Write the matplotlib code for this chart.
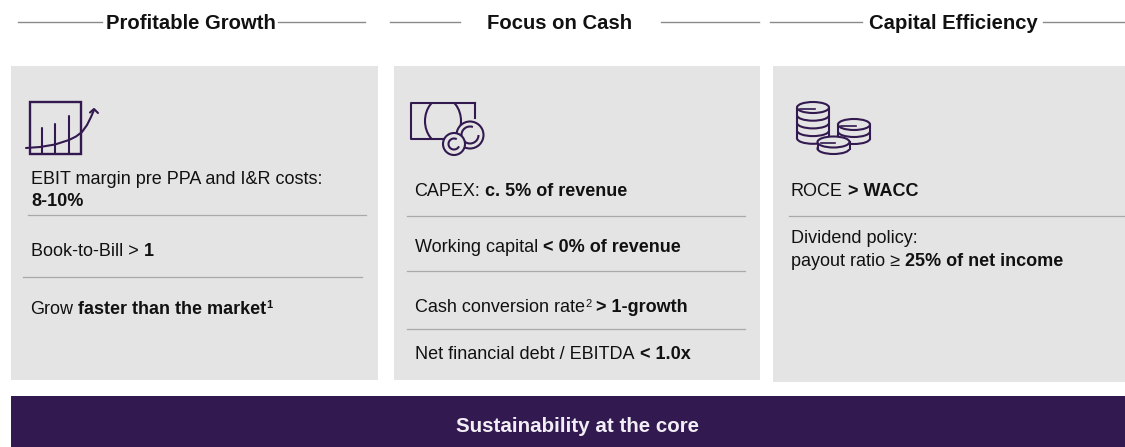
import numpy as np
import matplotlib
matplotlib.use("Agg")
import matplotlib.pyplot as plt
from matplotlib.patches import Rectangle, Ellipse, Arc

W, H = 1125, 447
GREY = "#e4e4e4"
PURPLE = "#32194f"
RULE = "#a9a9a9"
INK = "#111111"
FS = 13.0
HFS = 14.6
SPACE = 5.0

headers = ["Profitable Growth", "Focus on Cash", "Capital Efficiency"]
header_x = [191, 560, 953]
header_rules = [[(18, 102), (278, 365)], [(390, 460), (661, 759)], [(770, 862), (1043, 1125)]]
panels = [(11, 378), (394, 760), (773, 1125)]
panel_tops = [66, 66, 66]
panel_bottoms = [380, 380, 382]
rules = [(28, 366, 215), (23, 362, 277), (407, 745, 216), (407, 745, 271), (407, 745, 329), (789, 1125, 216)]
footer_text = "Sustainability at the core"

# (x, baseline y, [(text, bold, superscript)])
lines = [
    (31, 184, [("EBIT margin pre PPA and I&R costs:", False, False)]),
    (31, 206, [("8-10%", True, False)]),
    (31, 256, [("Book-to-Bill > ", False, False), ("1", True, False)]),
    (30.5, 314, [("Grow ", False, False), ("faster than the market", True, False), ("1", True, True)]),
    (414.5, 196, [("CAPEX: ", False, False), ("c. 5% of revenue", True, False)]),
    (415, 252.5, [("Working capital ", False, False), ("< 0% of revenue", True, False)]),
    (415, 312.5, [("Cash conversion rate", False, False), ("2", False, True), (" > 1-growth", True, False)]),
    (415, 359, [("Net financial debt / EBITDA ", False, False), ("< 1.0x", True, False)]),
    (791, 196, [("ROCE ", False, False), ("> WACC", True, False)]),
    (791, 243, [("Dividend policy:", False, False)]),
    (791, 266, [("payout ratio ≥ ", False, False), ("25% of net income", True, False)]),
]

plt.rcParams["font.family"] = ["Liberation Sans", "DejaVu Sans"]
fig = plt.figure(figsize=(W / 100, H / 100), dpi=100)
ax = fig.add_axes([0, 0, 1, 1])
ax.set_xlim(0, W)
ax.set_ylim(H, 0)
ax.axis("off")

for (x0, x1), top, bottom in zip(panels, panel_tops, panel_bottoms):
    ax.add_patch(Rectangle((x0, top), x1 - x0, bottom - top, fc=GREY, ec="none", zorder=1))
ax.add_patch(Rectangle((11, 396), W - 11, H - 396, fc=PURPLE, ec="none", zorder=1))

for x0, x1, y in rules:
    ax.plot([x0, x1], [y, y], color=RULE, lw=0.9, zorder=2)

for label, x, segs in zip(headers, header_x, header_rules):
    ax.text(x, 23.5, label, ha="center", va="center", fontsize=HFS, fontweight="bold", color=INK, zorder=3)
    for a, b in segs:
        ax.plot([a, b], [22, 22], color="#8a8a8a", lw=1.0, zorder=2)

ax.text(578, 426.5, footer_text, ha="center", va="center", fontsize=14.8, fontweight="bold", color="#f2eef5", zorder=3)

renderer = fig.canvas.get_renderer()
inv = ax.transData.inverted()
for x, y, segs in lines:
    cur = x
    for txt, bold, sup in segs:
        core = txt.strip(" ")
        lead = len(txt) - len(txt.lstrip(" "))
        trail = len(txt) - len(txt.rstrip(" "))
        t = ax.text(cur + lead * SPACE, y - (5.5 if sup else 0), core, ha="left", va="baseline",
                    fontsize=FS * (0.62 if sup else 1), fontweight="bold" if bold else "normal",
                    color=INK, zorder=3)
        bb = t.get_window_extent(renderer)
        cur = inv.transform((bb.x1, 0))[0] + trail * SPACE

# icons
lw = 1.5
kw = dict(color=PURPLE, lw=lw, zorder=4, solid_capstyle="round")

# growth chart icon
ax.add_patch(Rectangle((30, 102), 51, 52, fc="none", ec=PURPLE, lw=1.7, zorder=4))
for bx, by in [(42, 128), (55, 124), (69, 116)]:
    ax.plot([bx, bx], [by, 154], **kw)
cx = [26, 40, 55, 69, 76, 82, 87, 91, 94]
cy = [148, 147, 144.5, 140, 136.5, 132, 125, 117, 110]
ax.plot(cx, cy, **kw)
ax.plot([90, 94, 98], [112.5, 109, 113], **kw)

# banknote + coins icon
ax.plot([475, 411, 411, 446], [103, 103, 139, 139], color=PURPLE, lw=lw, zorder=4)
ax.plot([475, 475], [103, 118], color=PURPLE, lw=lw, zorder=4)
oval = Ellipse((443, 121), 36, 46, fc="none", ec=PURPLE, lw=lw, zorder=4)
ax.add_patch(oval)
clip = Rectangle((411, 103), 64, 36, transform=ax.transData)
oval.set_clip_path(clip)
ax.add_patch(Ellipse((470, 135), 27, 27, fc=GREY, ec=PURPLE, lw=lw, zorder=5))
ax.add_patch(Arc((470, 135), 17, 17, theta1=0, theta2=290, ec=PURPLE, lw=lw, zorder=6))
ax.add_patch(Ellipse((454, 144), 22, 22, fc=GREY, ec=PURPLE, lw=lw, zorder=7))
ax.add_patch(Arc((454, 144), 11, 11, theta1=25, theta2=300, ec=PURPLE, lw=lw, zorder=8))


def coin_stack(cx, top, w, n, step, eh=11, z=4):
    x0, x1 = cx - w / 2, cx + w / 2
    bottom = top + n * step
    ax.add_patch(Ellipse((cx, bottom), w, eh, fc=GREY, ec=PURPLE, lw=lw, zorder=z))
    ax.add_patch(Rectangle((x0, top), w, n * step, fc=GREY, ec="none", zorder=z))
    ax.plot([x0, x0], [top, bottom], color=PURPLE, lw=lw, zorder=z)
    ax.plot([x1, x1], [top, bottom], color=PURPLE, lw=lw, zorder=z)
    for i in range(1, n):
        ax.add_patch(Arc((cx, top + i * step), w, eh, theta1=0, theta2=180, ec=PURPLE, lw=lw, zorder=z))
    ax.add_patch(Ellipse((cx, top), w, eh, fc=GREY, ec=PURPLE, lw=lw, zorder=z))
    ax.plot([cx - w * 0.4, cx + w * 0.05], [top + 1, top + 1], color=PURPLE, lw=1.2, zorder=z)


coin_stack(813, 107.5, 32, 4, 7.7, z=4)
coin_stack(854, 124.5, 32, 2, 7, z=5)
coin_stack(833.5, 142, 32, 1, 6.5, z=6)

fig.savefig("out.png", dpi=100)
